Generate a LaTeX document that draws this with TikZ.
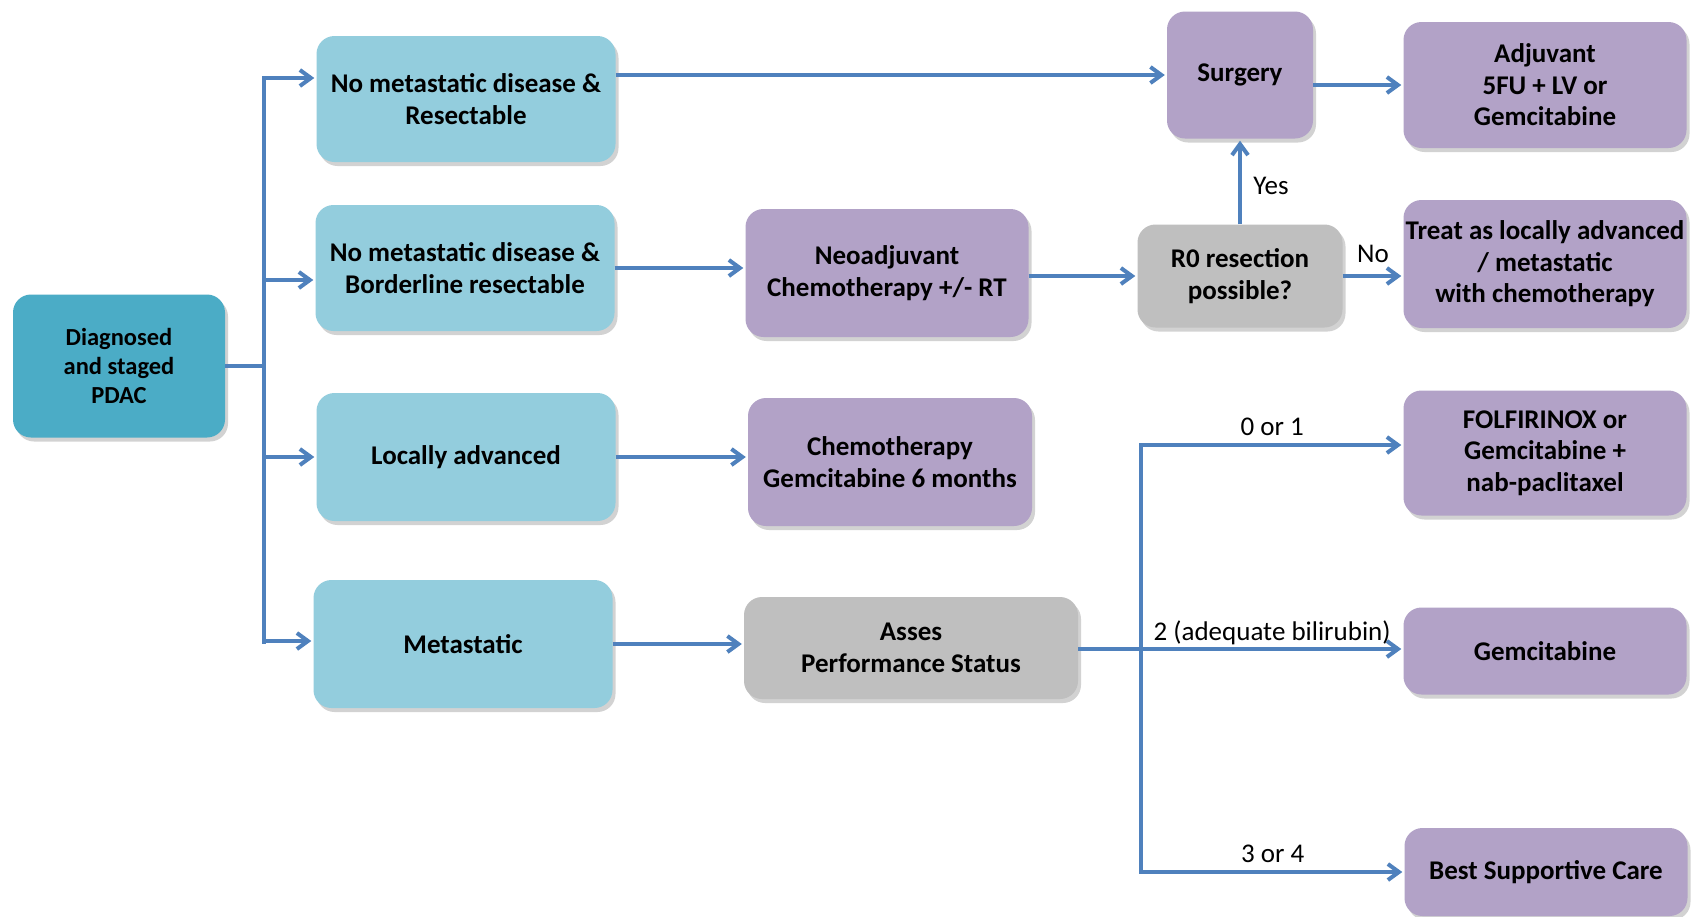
\documentclass[tikz,border=0pt]{standalone}
\usepackage{fontspec}
\setmainfont{Carlito}
\usetikzlibrary{arrows.meta,shadows}

\definecolor{linkblue}{HTML}{4F81BD}
\definecolor{pdacteal}{HTML}{4BACC6}
\definecolor{stagecyan}{HTML}{93CDDD}
\definecolor{careviolet}{HTML}{B2A2C7}
\definecolor{askgrey}{HTML}{BFBFBF}

\begin{document}
\begin{tikzpicture}[x=1pt, y=-1pt,
	box/.style={rounded corners=18pt, align=center, inner sep=2pt,
		font=\fontsize{27}{31.5}\selectfont\bfseries,
		drop shadow={shadow xshift=3pt, shadow yshift=-4pt, opacity=0.35}},
	cyanbox/.style={box, fill=stagecyan, minimum width=299pt, minimum height=126pt},
	violetbox/.style={box, fill=careviolet},
	greybox/.style={box, fill=askgrey},
	conn/.style={draw=linkblue, line width=4pt},
	arr/.style={conn, -{Straight Barb[length=11pt, width=16pt]}, shorten >=2pt},
	lbl/.style={font=\fontsize{27}{31}\selectfont, text height=0.7em, text depth=0.25em}]
\clip (0,0) rectangle (1695,916);
\fill[white] (0,0) rectangle (1695,916);

%start and stages:
\node[box, fill=pdacteal, minimum width=212pt, minimum height=143pt, font=\fontsize{24.5}{29}\selectfont\bfseries] (pdac) at (119,366) {Diagnosed\\and staged\\PDAC};
\node[cyanbox] (res) at (466,99) {No metastatic disease \&\\Resectable};
\node[cyanbox] (bord) at (465,268) {No metastatic disease \&\\Borderline resectable};
\node[cyanbox, minimum height=128pt] (loc) at (466,457) {Locally advanced};
\node[cyanbox, minimum height=128pt] (met) at (463,644) {Metastatic};

%middle column:
\node[violetbox, minimum width=283pt, minimum height=128pt] (neo) at (887,273) {Neoadjuvant\\Chemotherapy +/- RT};
\node[violetbox, minimum width=284pt, minimum height=128pt] (chemo) at (890,462) {Chemotherapy\\Gemcitabine 6 months};
\node[greybox, minimum width=334pt, minimum height=102pt] (asses) at (911,648) {Asses\\Performance Status};

%surgery and decision:
\node[violetbox, minimum width=146pt, minimum height=127pt] (surg) at (1240,75) {Surgery};
\node[greybox, minimum width=205pt, minimum height=103pt] (r0) at (1240,276) {R0 resection\\possible?};

%right column:
\node[violetbox, minimum width=283pt, minimum height=126pt] (adj) at (1545,85) {Adjuvant\\5FU + LV or\\Gemcitabine};
\node[violetbox, minimum width=283pt, minimum height=128pt] (treat) at (1545,264) {Treat as locally advanced\\/ metastatic\\with chemotherapy};
\node[violetbox, minimum width=283pt, minimum height=125pt] (folf) at (1545,453) {FOLFIRINOX or\\Gemcitabine +\\nab-paclitaxel};
\node[violetbox, minimum width=283pt, minimum height=87pt] (gem) at (1545,651) {Gemcitabine};
\node[violetbox, minimum width=283pt, minimum height=88pt] (bsc) at (1546,872) {Best Supportive Care};

%trunk from PDAC:
\coordinate (trunk) at (264,366);
\draw[conn] (pdac.east) -- (trunk);
\draw[conn] (trunk |- 0,76) -- (trunk |- 0,644);
\foreach \n/\s in {res/21, bord/-12, loc/0, met/3} {
	\draw[arr] (trunk) |- ([yshift=\s pt]\n.west);
}

%stage arrows:
\draw[arr] (res.east |- surg.west) -- (surg.west);
\draw[arr] (surg.east |- adj.west) -- (adj.west);
\draw[arr] (bord.east) -- (bord.east -| neo.west);
\draw[arr] (neo.east |- r0.west) -- (r0.west);
\draw[arr] (r0) -- (surg) node[lbl, pos=0.38, right=8pt] {Yes};
\draw[arr] (r0.east) -- (r0.east -| treat.west) node[lbl, midway, above=6pt] {No};
\draw[arr] (loc.east) -- (loc.east -| chemo.west);
\draw[arr] (met.east) -- (met.east -| asses.west);

%performance status split:
\coordinate (split) at (1141,649);
\draw[conn] (asses.east |- split) -- (split);
\draw[arr] (split) |- ([yshift=8pt]folf.west) node[lbl, pos=0.75, above=2pt] {0 or 1};
\draw[arr] (split) -- (split -| gem.west) node[lbl, midway, above=1pt] {2 (adequate bilirubin)};
\draw[arr] (split) |- (bsc.west) node[lbl, pos=0.75, above=2pt] {3 or 4};
\end{tikzpicture}
\end{document}
